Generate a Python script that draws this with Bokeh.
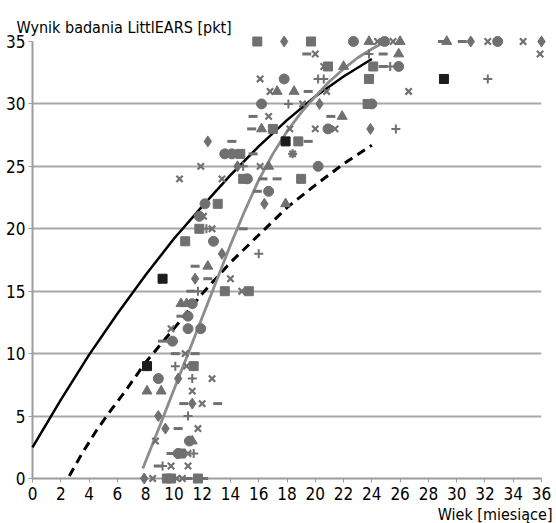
from bokeh.plotting import figure
from bokeh.models import Range1d, FixedTicker, Title
from bokeh.embed import file_html
from bokeh.resources import INLINE

FONT = "DejaVu Sans Condensed, Liberation Sans"

# ---- data ----
x_ticks = [0, 2, 4, 6, 8, 10, 12, 14, 16, 18, 20, 22, 24, 26, 28, 30, 32, 34, 36]
y_ticks = [0, 5, 10, 15, 20, 25, 30, 35]

sq_x = [15.9, 19.7, 20.9, 24.1, 23.8, 23.7, 17.0, 18.8, 14.7, 14.9, 19.0, 13.1, 11.8, 10.8, 13.6, 15.3, 11.4, 10.5, 9.5, 9.8, 11.7]
sq_y = [35, 35, 33, 33, 32, 30, 28, 27, 26, 24, 24, 22, 20, 19, 15, 15, 9, 2, 0, 0, 0]

bsq_x = [17.9, 29.1, 9.2, 8.1]
bsq_y = [27, 32, 16, 9]

dia_x = [17.8, 31.0, 36.0, 20.3, 23.9, 12.4, 14.5, 16.4, 13.4, 11.5, 10.3, 11.3, 8.9, 9.4, 7.9]
dia_y = [35, 35, 35, 30, 28, 27, 25, 22, 18, 16, 8, 6, 5, 4, 0]

cir_x = [22.7, 24.9, 32.9, 25.9, 17.8, 16.2, 24.0, 20.9, 13.6, 14.1, 20.2, 15.2, 16.7, 12.2, 11.8, 12.8, 11.3, 11.0, 11.0, 11.9, 9.9, 8.9, 11.1, 10.3]
cir_y = [35, 35, 35, 33, 32, 30, 30, 28, 26, 26, 25, 24, 23, 22, 21, 19, 14, 13, 12, 12, 11, 8, 3, 2]

tri_x = [23.8, 26.0, 29.3, 25.9, 22.0, 17.3, 18.5, 21.9, 16.2, 16.7, 17.9, 12.4, 10.5, 10.9, 8.1, 9.1, 11.3]
tri_y = [35, 35, 35, 34, 33, 31, 31, 29, 28, 25, 22, 17, 14, 14, 7, 7, 3]

x_x = [24.4, 25.5, 32.2, 34.7, 20.0, 35.9, 20.6, 16.1, 16.8, 20.8, 26.6, 19.1, 16.7, 18.2, 20.0, 21.4, 11.9, 16.1, 10.4, 13.4,
       12.1, 12.7, 14.0, 14.8, 9.8, 10.8, 10.9, 12.7, 11.3, 12.0, 11.7, 8.7, 11.0, 9.8, 11.0, 8.5, 10.2, 10.6]
x_y = [35, 35, 35, 35, 34, 34, 33, 32, 31, 31, 31, 30, 29, 28, 28, 28, 25, 25, 24, 24,
       21, 20, 16, 15, 12, 10, 9, 8, 7, 6, 4, 3, 2, 1, 1, 0, 0, 0]

ast_x = [18.4]
ast_y = [26]

dash_x = [29.0, 30.4, 19.4, 24.8, 24.8, 19.5, 15.6, 21.1, 15.5, 14.1, 19.5, 15.6, 16.3, 17.3, 15.9, 14.9, 11.5, 12.4, 11.2,
          10.5, 9.2, 10.1, 11.5, 10.7, 13.1, 10.3, 9.8, 8.9, 11.0, 12.1]
dash_y = [35, 35, 34, 34, 33, 31, 29, 29, 28, 27, 27, 26, 24, 24, 23, 20, 17, 16, 15,
          13, 11, 10, 10, 6, 6, 4, 2, 1, 0, 0]

plus_x = [23.8, 25.3, 20.2, 20.6, 32.2, 18.1, 25.7, 14.9, 12.3, 16.0, 11.7, 10.1, 11.3, 11.0, 11.4, 9.2]
plus_y = [34, 33, 32, 32, 32, 30, 28, 25, 20, 18, 15, 9, 8, 5, 2, 1]

# trend curves
blk_x = [0, 2, 4, 6, 8, 10, 12, 14, 16, 18, 20, 22, 24]
blk_y = [2.5, 6.3, 9.9, 13.2, 16.3, 19.2, 21.8, 24.3, 26.6, 28.7, 30.6, 32.2, 33.6]

dsh_x = [2.6, 3.5, 4.5, 5.5, 6.5, 8, 10, 12, 14, 16, 18, 20, 22, 24]
dsh_y = [0.2, 2.0, 3.8, 5.4, 6.9, 9.3, 12.0, 14.8, 17.3, 19.5, 21.7, 23.5, 25.2, 26.7]

gry_x = [7.8, 9, 10, 11, 12, 13, 14, 15, 16, 17, 18, 19, 20, 21, 22, 23, 24, 24.8]
gry_y = [0.8, 4.2, 7.1, 10.0, 12.9, 15.8, 18.7, 21.4, 23.9, 26.0, 27.8, 29.3, 30.6, 31.8, 32.8, 33.7, 34.4, 34.9]

# ---- figure ----
GRAY = "#707070"
DARK = "#1c1c1c"
AX = "#9c9c9c"

p = figure(width=556, height=523, output_backend="svg", toolbar_location=None,
           x_range=Range1d(0, 36), y_range=Range1d(0, 35),
           min_border_left=32, min_border_right=15, min_border_top=41, min_border_bottom=28)
p.outline_line_color = None
p.background_fill_color = "white"

p.title.text = "Wynik badania LittlEARS [pkt]"
p.title.text_font = FONT
p.title.text_font_size = "16px"
p.title.text_font_style = "normal"
p.title.text_color = "black"
p.title.align = "left"
p.title.offset = -16
p.title.standoff = 9

p.add_layout(Title(text="Wiek [miesiące]", align="right", text_font=FONT, text_font_size="16px",
                   text_font_style="normal", text_color="black", offset=-11, standoff=0), "below")

for ax in (p.xaxis, p.yaxis):
    ax.axis_line_color = AX
    ax.axis_line_width = 2
    ax.major_tick_line_color = AX
    ax.major_tick_line_width = 1
    ax.major_tick_in = 0
    ax.major_tick_out = 4
    ax.minor_tick_out = 0
    ax.minor_tick_in = 0
    ax.major_label_text_font = FONT
    ax.major_label_text_font_size = "17px"
    ax.major_label_text_color = "black"
p.xaxis.ticker = FixedTicker(ticks=x_ticks)
p.yaxis.ticker = FixedTicker(ticks=y_ticks)
p.xaxis.major_label_standoff = 4
p.yaxis.major_label_standoff = 3

p.xgrid.grid_line_color = None
p.ygrid.ticker = FixedTicker(ticks=y_ticks)
p.ygrid.grid_line_color = "#a8a8a8"
p.ygrid.grid_line_width = 2

# curves
p.line(blk_x, blk_y, line_color="black", line_width=2.5, level="overlay")
p.line(dsh_x, dsh_y, line_color="black", line_width=3, line_dash="9 6", level="overlay")
p.line(gry_x, gry_y, line_color="#8c8c8c", line_width=2.8, level="overlay")

# markers
p.scatter(sq_x, sq_y, marker="square", size=9, fill_color=GRAY, line_color=GRAY, level="overlay")
p.scatter(bsq_x, bsq_y, marker="square", size=9, fill_color=DARK, line_color=DARK, level="overlay")
p.scatter(dia_x, dia_y, marker="diamond", size=11, fill_color=GRAY, line_color=GRAY, level="overlay")
p.scatter(cir_x, cir_y, marker="circle", size=10, fill_color=GRAY, line_color=GRAY, level="overlay")
p.scatter(tri_x, tri_y, marker="triangle", size=10, fill_color=GRAY, line_color=GRAY, level="overlay")
p.scatter(x_x, x_y, marker="x", size=9, line_color=GRAY, line_width=2.2, level="overlay")
p.scatter(ast_x, ast_y, marker="asterisk", size=9, line_color=GRAY, line_width=2.2, level="overlay")
p.scatter(dash_x, dash_y, marker="dash", size=9, line_color=GRAY, line_width=3, level="overlay")
p.scatter(plus_x, plus_y, marker="cross", size=9, line_color=GRAY, line_width=2, level="overlay")

open("out.html", "w").write(file_html(p, INLINE))
